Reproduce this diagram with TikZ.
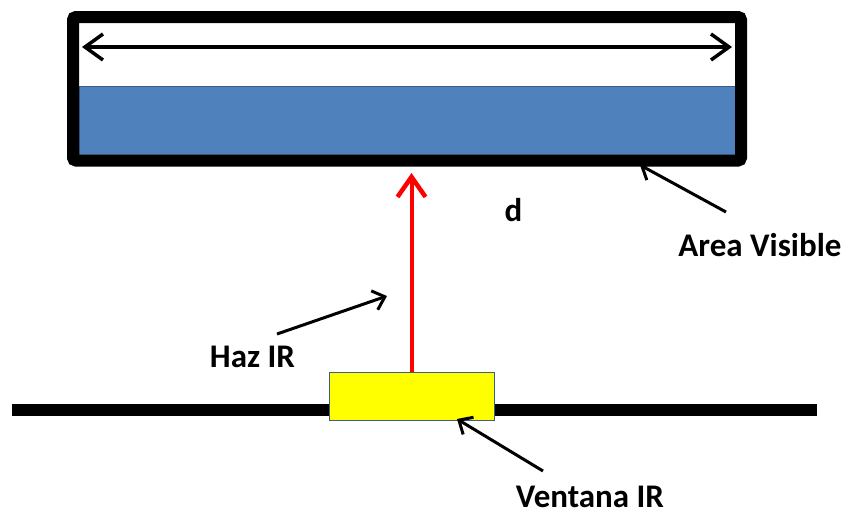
\documentclass[tikz,border=0pt]{standalone}
\usepackage{fontspec}
\setmainfont{Carlito}
\usetikzlibrary{arrows.meta}
\definecolor{areablue}{HTML}{4F81BD}
\definecolor{areaedge}{HTML}{385D8A}
\definecolor{beamred}{HTML}{FF0000}
\definecolor{winyellow}{HTML}{FFFF00}
\tikzset{
  lbl/.style={font=\fontsize{33}{36}\selectfont\bfseries, text=black, inner sep=0pt, anchor=base},
  pointer/.style={line width=3pt, draw=black, -{Straight Barb[length=11pt,width=20pt,line width=3pt]}},
  dimarrow/.style={line width=3.5pt, draw=black, {Straight Barb[length=18pt,width=26pt,line width=3.5pt]}-{Straight Barb[length=18pt,width=26pt,line width=3.5pt]}},
  beam/.style={line width=4pt, draw=beamred, -{Straight Barb[length=20pt,width=28pt,line width=4.5pt]}},
  framebox/.style={line width=12pt, draw=black, rounded corners=3pt},
  areabox/.style={fill=areablue, draw=areaedge, line width=0.8pt},
  winbox/.style={fill=winyellow, draw=areaedge, line width=0.8pt, inner sep=0pt, minimum width=165pt, minimum height=47.3pt},
  wall/.style={line width=12pt, draw=black}
}
\begin{document}
\begin{tikzpicture}[x=1pt,y=-1pt]
\useasboundingbox (0,0) rectangle (851,515);
% visible area
\fill[areabox] (79,86) rectangle (735,155);
\draw[framebox] (73,17) rectangle (741,160.5);
\coordinate (dl) at (82,47);
\coordinate (dr) at (732,47);
\draw[dimarrow] (dl) -- (dr);
% wall line
\coordinate (wl) at (12,409.5);
\coordinate (wr) at (817,409.5);
\draw[wall] (wl) -- (wr);
% IR window
\node[winbox] (win) at (411.5,396.35) {};
\coordinate (beamtip) at (411.5,173);
\draw[beam] (win.north) -- (beamtip);
% labels
\node[lbl] (d) at (513.5,221) {d};
\node[lbl] (area) at (760,256) {Area Visible};
\node[lbl] (haz) at (252.5,367) {Haz IR};
\node[lbl] (vent) at (590,507) {Ventana IR};
% pointers
\coordinate (areastart) at (726,212);
\coordinate (areatip) at (640,165);
\draw[pointer] (areastart) -- (areatip);
\coordinate (hazstart) at (277,334);
\coordinate (haztip) at (387,296);
\draw[pointer] (hazstart) -- (haztip);
\coordinate (ventstart) at (543,471);
\coordinate (venttip) at (457,419);
\draw[pointer] (ventstart) -- (venttip);
\end{tikzpicture}
\end{document}
